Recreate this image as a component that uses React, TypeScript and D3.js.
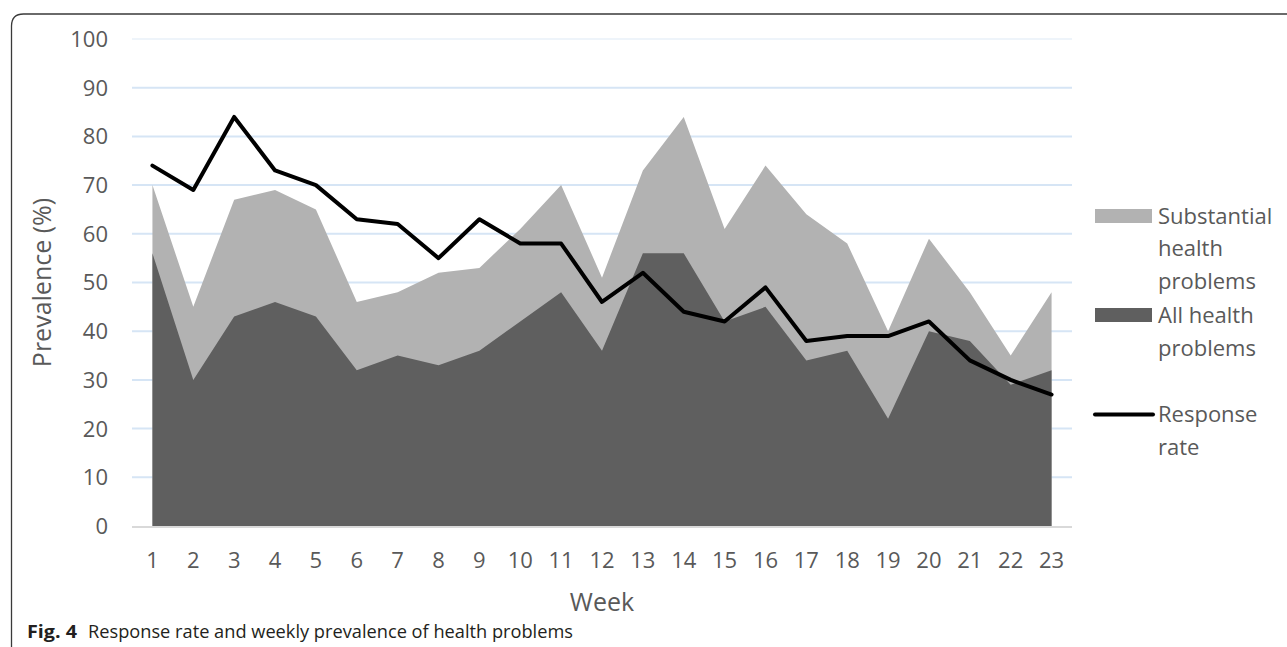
import React from "react";
import * as d3 from "d3";

const weeks = ["1","2","3","4","5","6","7","8","9","10","11","12","13","14","15","16","17","18","19","20","21","22","23"];
const substantial = [70,45,67,69,65,46,48,52,53,61,70,51,73,84,61,74,64,58,40,59,48,35,48];
const allProblems = [56,30,43,46,43,32,35,33,36,42,48,36,56,56,42,45,34,36,22,40,38,29,32];
const responseRate = [74,69,84,73,70,63,62,55,63,58,58,46,52,44,42,49,38,39,39,42,34,30,27];
const yTicks = [0,10,20,30,40,50,60,70,80,90,100];

const W = 1287, H = 647;
const FONT = "'Open Sans', 'Noto Sans', sans-serif";
const TXT = "#595959";

export default function App() {
  const x = d3.scalePoint<string>().domain(weeks).range([132, 1072]).padding(0.5);
  const y = d3.scaleLinear().domain([0, 100]).range([526, 39]);

  const area = (vals: number[]) =>
    d3.area<number>()
      .x((_, i) => x(weeks[i]) as number)
      .y0(y(0))
      .y1((v) => y(v))(vals) as string;

  const line = d3.line<number>()
    .x((_, i) => x(weeks[i]) as number)
    .y((v) => y(v))(responseRate) as string;

  const legendX = 1095;
  return (
    <svg width={W} height={H} style={{ position: "absolute", left: 0, top: 0, background: "#fff" }} fontFamily={FONT}>
      {/* border */}
      <path d="M11.5,650 L11.5,26 Q11.5,14 23.5,14 L1290,14" fill="none" stroke="#3a3a3a" strokeWidth={1.3} />
      {/* gridlines */}
      {yTicks.filter(t => t > 0).map(t => (
        <line key={t} x1={132} x2={1072} y1={y(t)} y2={y(t)} stroke={t === 100 ? "#eef4fa" : "#d6e5f5"} strokeWidth={2} />
      ))}
      {/* areas */}
      <path d={area(substantial)} fill="#b2b2b2" />
      <path d={area(allProblems)} fill="#5f5f5f" />
      {/* x axis line */}
      <line x1={132} x2={1072} y1={y(0) + 1} y2={y(0) + 1} stroke="#d9d9d9" strokeWidth={2} />
      {/* response line */}
      <path d={line} fill="none" stroke="#000" strokeWidth={4} strokeLinejoin="round" strokeLinecap="round" />
      {/* y ticks */}
      {yTicks.map(t => (
        <text key={t} x={108} y={y(t)} dy="0.36em" textAnchor="end" fontSize={22} fill={TXT}>{t}</text>
      ))}
      {/* x ticks */}
      {weeks.map(w => (
        <text key={w} x={x(w) as number} y={560} dy="0.36em" textAnchor="middle" fontSize={22} fill={TXT}>{w}</text>
      ))}
      {/* axis titles */}
      <text x={602} y={602} dy="0.36em" textAnchor="middle" fontSize={25} fill={TXT}>Week</text>
      <text transform={`translate(42,${(y(0) + y(100)) / 2}) rotate(-90)`} dy="0.36em" textAnchor="middle" fontSize={25} fill={TXT}>Prevalence (%)</text>
      {/* legend */}
      <rect x={legendX} y={209} width={57} height={14} fill="#b2b2b2" />
      <text fontSize={22} fill={TXT}>
        <tspan x={1158} y={216} dy="0.36em">Substantial</tspan>
        <tspan x={1158} y={248} dy="0.36em">health</tspan>
        <tspan x={1158} y={281} dy="0.36em">problems</tspan>
      </text>
      <rect x={legendX} y={308} width={57} height={14} fill="#5f5f5f" />
      <text fontSize={22} fill={TXT}>
        <tspan x={1158} y={315} dy="0.36em">All health</tspan>
        <tspan x={1158} y={348} dy="0.36em">problems</tspan>
      </text>
      <line x1={legendX} x2={1153} y1={414.5} y2={414.5} stroke="#000" strokeWidth={4} strokeLinecap="round" />
      <text fontSize={22} fill={TXT}>
        <tspan x={1158} y={414} dy="0.36em">Response</tspan>
        <tspan x={1158} y={447} dy="0.36em">rate</tspan>
      </text>
      {/* caption */}
      <text x={27} y={638} fontSize={18} fill="#231f20">
        <tspan fontWeight="bold" textLength={50} lengthAdjust="spacingAndGlyphs">Fig. 4</tspan>
        <tspan x={88} textLength={485} lengthAdjust="spacingAndGlyphs">Response rate and weekly prevalence of health problems</tspan>
      </text>
    </svg>
  );
}
